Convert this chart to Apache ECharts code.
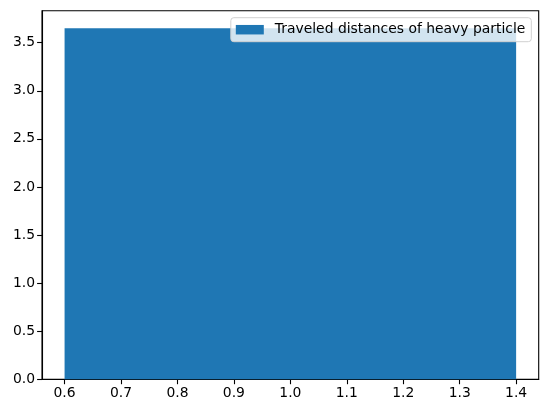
<!DOCTYPE html>
<html><head><meta charset="utf-8">
<script src="https://cdn.jsdelivr.net/npm/echarts@6/dist/echarts.min.js"></script>
<style>html,body{margin:0;padding:0;background:#fff}#c{width:547px;height:413px}</style>
</head><body><div id="c"></div>
<script>
const binEdges = [0.6, 1.4];
const counts = [3.65];
const seriesName = 'Traveled distances of heavy particle';
const xTicks = [0.6, 0.7, 0.8, 0.9, 1.0, 1.1, 1.2, 1.3, 1.4];
const yTicks = [0, 0.5, 1.0, 1.5, 2.0, 2.5, 3.0, 3.5];

const bins = counts.map((c, i) => [binEdges[i], binEdges[i + 1], c]);
const font = 'DejaVu Sans';
const chart = echarts.init(document.getElementById('c'), null, {renderer: 'canvas'});
chart.setOption({
  animation: false,
  grid: {left: 42, right: 8.3, top: 10.7, bottom: 33.7, show: true, borderColor: '#000', borderWidth: 1.1, backgroundColor: 'transparent'},
  legend: {
    right: 15.7, top: 17.7, data: [{name: seriesName, icon: 'rect'}],
    itemWidth: 28, itemHeight: 9.5, itemGap: 8,
    padding: [5, 6, 5, 5],
    borderColor: '#d0d0d0', borderWidth: 1, borderRadius: 3,
    backgroundColor: 'rgba(255,255,255,0.8)',
    textStyle: {fontFamily: font, fontSize: 13.9, color: '#000', padding: [0, 0, 0, 6]}
  },
  xAxis: {
    type: 'value', min: 0.56, max: 1.44,
    splitLine: {show: false},
    axisLine: {show: true, onZero: false, lineStyle: {color: '#000', width: 1.1}},
    axisTick: {show: true, length: 4.9, customValues: xTicks, lineStyle: {color: '#000', width: 1.1}},
    axisLabel: {customValues: xTicks, fontFamily: font, fontSize: 13.9, color: '#000', margin: 7, formatter: v => (+v).toFixed(1)}
  },
  yAxis: {
    type: 'value', min: 0, max: 3.8325,
    splitLine: {show: false},
    axisLine: {show: true, lineStyle: {color: '#000', width: 1.1}},
    axisTick: {show: true, length: 4.9, customValues: yTicks, lineStyle: {color: '#000', width: 1.1}},
    axisLabel: {customValues: yTicks, fontFamily: font, fontSize: 13.9, color: '#000', margin: 7, formatter: v => (+v).toFixed(1)}
  },
  series: [{
    name: seriesName, type: 'custom',
    itemStyle: {color: '#1f77b4'},
    encode: {x: [0, 1], y: 2},
    data: bins,
    renderItem: function (params, api) {
      const p0 = api.coord([api.value(0), api.value(2)]);
      const p1 = api.coord([api.value(1), 0]);
      return {type: 'rect', shape: {x: p0[0], y: p0[1], width: p1[0] - p0[0], height: p1[1] - p0[1]}, style: {fill: '#1f77b4'}};
    }
  }]
});
</script></body></html>
